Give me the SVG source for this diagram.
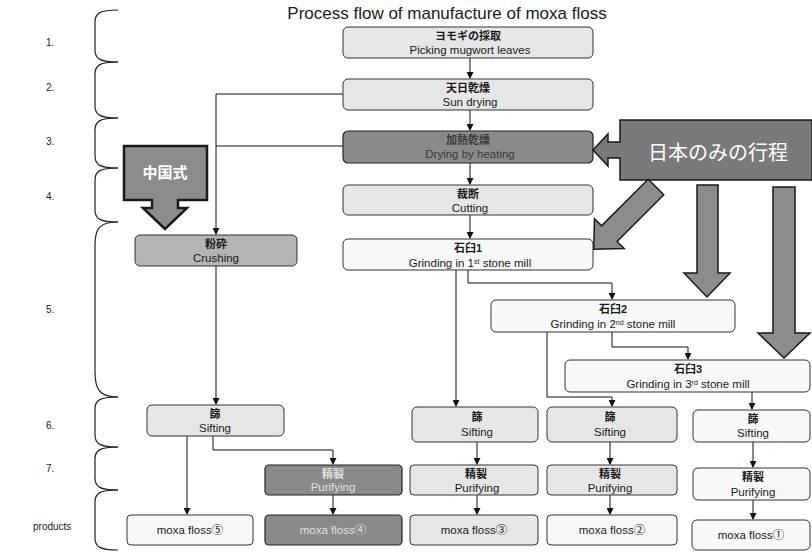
<svg xmlns="http://www.w3.org/2000/svg" width="812" height="554" viewBox="0 0 812 554">
<defs>
<marker id="ah" markerWidth="7" markerHeight="7" refX="6" refY="3.5" orient="auto" markerUnits="userSpaceOnUse">
<path d="M0,0 L7,3.5 L0,7 Z" fill="#111"/>
</marker>
<style>
text{font-family:"Liberation Sans","Noto Sans CJK JP",sans-serif;fill:#1a1a1a;text-anchor:middle}
.jp{font-size:11px;font-weight:bold}
.en{font-size:11.5px}
.lbl{font-size:10px;text-anchor:start}
.light rect{fill:#e6e6e6;stroke:#333;stroke-width:1}
.white rect{fill:#f8f8f8;stroke:#333;stroke-width:1}
.mid rect{fill:#b4b4b4;stroke:#333;stroke-width:1}
.dark rect{fill:#8a8a8a;stroke:#222;stroke-width:1.2}
.dark text{fill:#e0e0e0}
.big{fill:#8c8c8c;stroke:#1a1a1a;stroke-width:1.5}
.conn path{fill:none;stroke:#111;stroke-width:1;marker-end:url(#ah)}
.conn path.n{marker-end:none}
.brace path{fill:none;stroke:#222;stroke-width:1.2}
</style>
</defs>
<rect width="812" height="554" fill="#ffffff"/>
<text x="447" y="19" style="font-size:17px">Process flow of manufacture of moxa floss</text>
<g id="row-labels">
<text class="lbl" x="46" y="46">1.</text>
<text class="lbl" x="46" y="91">2.</text>
<text class="lbl" x="46" y="145">3.</text>
<text class="lbl" x="46" y="200">4.</text>
<text class="lbl" x="46" y="313">5.</text>
<text class="lbl" x="46" y="429">6.</text>
<text class="lbl" x="46" y="472">7.</text>
<text class="lbl" x="33" y="530">products</text>
</g>
<g class="brace" id="braces">
<path d="M118,10 C100,10 95,13 95,22 V50 C95,59 100,62 118,62"/>
<path d="M118,62 C100,62 95,65 95,74 V106 C95,115 100,118 118,118"/>
<path d="M118,118 C100,118 95,121 95,130 V156 C95,165 100,168 118,168"/>
<path d="M118,168 C100,168 95,171 95,180 V210 C95,219 100,222 118,222"/>
<path d="M118,222 C100,222 95,228 95,245 V372 C95,390 100,397 118,397"/>
<path d="M118,397 C100,397 95,400 95,409 V435 C95,444 100,447 118,447"/>
<path d="M118,447 C100,447 95,450 95,459 V478 C95,487 100,490 118,490"/>
<path d="M118,490 C100,490 95,493 95,502 V538 C95,547 100,550 118,550"/>
</g>
<g class="conn" id="connectors">
<path d="M470,58 V78"/>
<path d="M470,110 V130"/>
<path d="M470,163 V184"/>
<path d="M470,215 V238"/>
<path d="M343,94 H216 V234"/>
<path class="n" d="M343,146 H216"/>
<path d="M216,266 V404"/>
<path d="M456,270 V406"/>
<path d="M468,270 V283 H612 V299"/>
<path d="M547,332 V397 H612 V406"/>
<path d="M612,332 V347 H688 V359"/>
<path d="M752,392 V409"/>
<path d="M187,436 V514"/>
<path d="M213,436 V450 H333 V464"/>
<path d="M333,495 V514"/>
<path d="M477,442 V464"/>
<path d="M477,495 V514"/>
<path d="M610,442 V464"/>
<path d="M610,495 V514"/>
<path d="M753,442 V467"/>
<path d="M753,500 V519"/>
</g>
<g id="picking" class="light"><rect x="343" y="27" width="250" height="31" rx="5"/><text class="jp" x="468" y="40">ヨモギの採取</text><text class="en" x="470" y="54">Picking mugwort leaves</text></g>
<g id="sundrying" class="light"><rect x="343" y="79" width="250" height="31" rx="5"/><text class="jp" x="468" y="92">天日乾燥</text><text class="en" x="470" y="106">Sun drying</text></g>
<g id="heating" class="dark"><rect x="343" y="131" width="250" height="32" rx="5"/><text class="jp" x="468" y="144" style="fill:#3a3a3a">加熱乾燥</text><text class="en" x="470" y="158" style="fill:#3a3a3a">Drying by heating</text></g>
<g id="cutting" class="light"><rect x="343" y="185" width="250" height="30" rx="5"/><text class="jp" x="468" y="198">裁断</text><text class="en" x="470" y="212">Cutting</text></g>
<g id="grind1" class="white"><rect x="343" y="239" width="250" height="31" rx="5"/><text class="jp" x="468" y="252">石臼1</text><text class="en" x="470" y="267">Grinding in 1<tspan style="font-size:7px" baseline-shift="super">st</tspan> stone mill</text></g>
<g id="crushing" class="mid"><rect x="135" y="235" width="162" height="31" rx="5"/><text class="jp" x="216" y="248">粉砕</text><text class="en" x="216" y="262">Crushing</text></g>
<g id="grind2" class="white"><rect x="491" y="300" width="244" height="32" rx="5"/><text class="jp" x="613" y="313">石臼2</text><text class="en" x="613" y="328">Grinding in 2<tspan style="font-size:7px" baseline-shift="super">nd</tspan> stone mill</text></g>
<g id="grind3" class="white"><rect x="565" y="360" width="245" height="32" rx="5"/><text class="jp" x="688" y="373">石臼3</text><text class="en" x="688" y="388">Grinding in 3<tspan style="font-size:7px" baseline-shift="super">rd</tspan> stone mill</text></g>
<g id="sift1" class="light"><rect x="147" y="405" width="137" height="31" rx="5"/><text class="jp" x="215" y="418">篩</text><text class="en" x="215" y="432">Sifting</text></g>
<g id="sift2" class="light"><rect x="412" y="407" width="126" height="35" rx="5"/><text class="jp" x="477" y="421">篩</text><text class="en" x="477" y="436">Sifting</text></g>
<g id="sift3" class="light"><rect x="547" y="407" width="130" height="35" rx="5"/><text class="jp" x="610" y="421">篩</text><text class="en" x="610" y="436">Sifting</text></g>
<g id="sift4" class="white"><rect x="693" y="410" width="117" height="32" rx="5"/><text class="jp" x="753" y="423">篩</text><text class="en" x="753" y="437">Sifting</text></g>
<g id="purify1" class="dark"><rect x="265" y="465" width="137" height="30" rx="4"/><text class="jp" x="333" y="478">精製</text><text class="en" x="333" y="491">Purifying</text></g>
<g id="purify2" class="light"><rect x="410" y="465" width="128" height="30" rx="4"/><text class="jp" x="476" y="478">精製</text><text class="en" x="477" y="492">Purifying</text></g>
<g id="purify3" class="light"><rect x="547" y="465" width="130" height="30" rx="4"/><text class="jp" x="610" y="478">精製</text><text class="en" x="610" y="492">Purifying</text></g>
<g id="purify4" class="white"><rect x="693" y="468" width="117" height="32" rx="5"/><text class="jp" x="753" y="481">精製</text><text class="en" x="753" y="496">Purifying</text></g>
<g id="moxa5" class="white"><rect x="127" y="515" width="126" height="30" rx="4"/><text class="en" x="190" y="534">moxa floss⑤</text></g>
<g id="moxa4" class="dark"><rect x="265" y="515" width="137" height="30" rx="4"/><text class="en" x="333" y="534">moxa floss④</text></g>
<g id="moxa3" class="light"><rect x="410" y="515" width="128" height="30" rx="4"/><text class="en" x="474" y="534">moxa floss③</text></g>
<g id="moxa2" class="white"><rect x="547" y="515" width="130" height="30" rx="4"/><text class="en" x="612" y="534">moxa floss②</text></g>
<g id="moxa1" class="white"><rect x="692" y="520" width="118" height="30" rx="5"/><text class="en" x="751" y="539">moxa floss①</text></g>
<g id="chinese">
<path class="big" d="M124,146 H207 V200 H178 V208 H187 L165,229 L143,208 H152 V200 H124 Z" style="stroke-width:2.5"/>
<text x="165" y="178" style="font-size:15px;font-weight:bold;fill:#fff">中国式</text>
</g>
<g id="japan">
<path class="big" d="M620,120 H812 V180 H620 V158 H608 V166 L593,150 L608,134 V142 H620 Z" style="fill:#7a7a7a"/>
<text x="718" y="160" style="font-size:20px;fill:#fff">日本のみの行程</text>
<path class="big" transform="translate(656,187) rotate(135)" d="M0,-11 H66 V-21 L88,0 L66,21 V11 H0 Z"/>
<path class="big" d="M697,185 H718 V273 H730 L707,297 L684,273 H697 Z"/>
<path class="big" d="M773,187 H795 V333 H810 L784,358 L758,333 H773 Z"/>
</g>
</svg>
